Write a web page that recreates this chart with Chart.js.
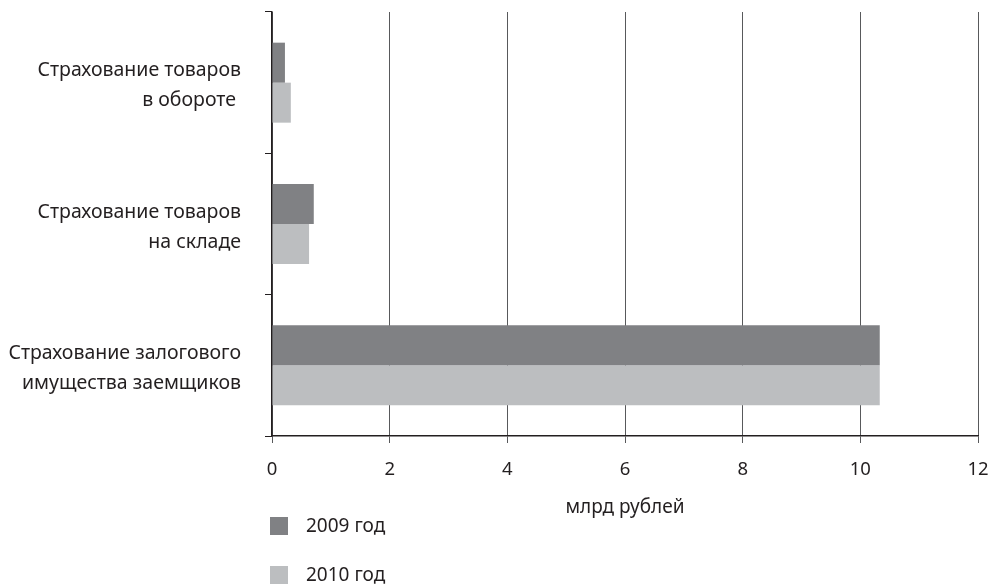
<!DOCTYPE html>
<html>
<head>
<meta charset="utf-8">
<script src="https://cdn.jsdelivr.net/npm/chart.js@4/dist/chart.umd.min.js"></script>
<style>
  html, body { margin: 0; padding: 0; background: #fff; }
  #wrap { width: 990px; height: 585px; position: relative; }
</style>
</head>
<body>
<div id="wrap"><canvas id="grafico"></canvas></div>
<script>
const categorias = [
	["Страхование товаров", "в обороте "],
	["Страхование товаров", "на складе"],
	["Страхование залогового", "имущества заемщиков"]
]
const valores2009 = [0.22, 0.71, 10.33]
const valores2010 = [0.32, 0.63, 10.33]
const series = ["2009 год", "2010 год"]
const cores = ["#808184", "#bcbec0"]

const FONTE = "'Noto Sans', sans-serif"
const TEXTO = "#231f20"

// legenda vertical embaixo, a esquerda do eixo
var legendaVertical = {
	id: "legendaVertical",
	afterDraw(chart) {
		var ctx = chart.ctx
		var x = chart.chartArea.left - 2
		ctx.save()
		ctx.font = "19px " + FONTE
		ctx.textBaseline = "middle"
		chart.data.datasets.forEach(function (ds, i) {
			var y = 517 + i * 49
			ctx.fillStyle = ds.backgroundColor
			ctx.fillRect(x, y, 18, 18)
			ctx.fillStyle = TEXTO
			ctx.fillText(ds.label, x + 36, y + 10)
		})
		ctx.restore()
	}
}

var grafico = new Chart(document.getElementById("grafico"), {
	type: "bar",
	data: {
		labels: categorias,
		datasets: [
			{ label: series[0], data: valores2009, backgroundColor: cores[0] },
			{ label: series[1], data: valores2010, backgroundColor: cores[1] }
		]
	},
	options: {
		indexAxis: "y",
		responsive: true,
		maintainAspectRatio: false,
		animation: false,
		layout: { padding: { top: 12, right: 12, left: 0, bottom: 66 } },
		datasets: { bar: { barPercentage: 1, categoryPercentage: 0.566 } },
		plugins: {
			legend: { display: false },
			tooltip: { enabled: false }
		},
		scales: {
			x: {
				min: 0,
				max: 12,
				afterFit(scale) {
					scale.paddingLeft = 0
					scale.paddingRight = 0
					scale.height = 83
				},
				ticks: { stepSize: 2, color: TEXTO, padding: 16, font: { family: FONTE, size: 18.5 } },
				grid: { color: "#58595b", lineWidth: 1, tickLength: 7 },
				border: { color: TEXTO, width: 1.5 },
				title: { display: true, text: "млрд рублей", color: TEXTO, padding: { top: 0, bottom: 0 }, font: { family: FONTE, size: 19 } }
			},
			y: {
				afterFit(scale) {
					scale.width = 272
					scale.paddingTop = 0
					scale.paddingBottom = 0
				},
				ticks: { color: TEXTO, padding: 24, labelOffset: 3, font: { family: FONTE, size: 19.5, lineHeight: 1.54 } },
				grid: { offset: true, drawOnChartArea: false, tickLength: 7, color: TEXTO },
				border: { color: TEXTO, width: 1.5 }
			}
		}
	},
	plugins: [legendaVertical]
})
</script>
</body>
</html>
